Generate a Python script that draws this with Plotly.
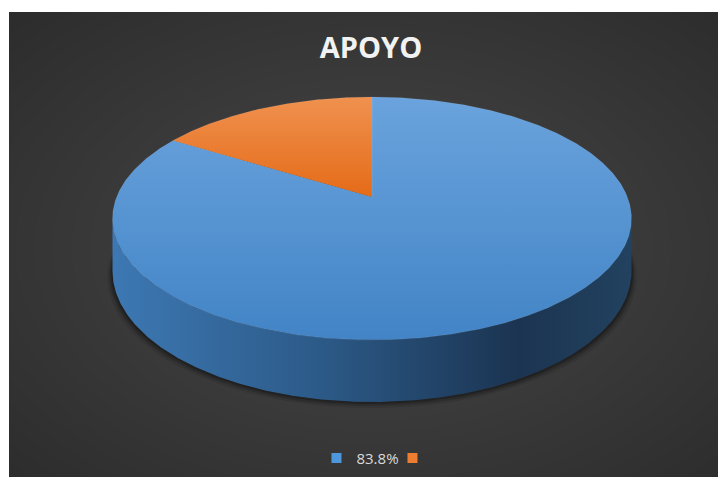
import numpy as np
import plotly.graph_objects as go

# ---- data ----
LABELS = ["83.8%", ""]
VALUES = [83.8, 16.2]
COLORS_TOP = [("#4284c6", "#6aa3dd"), ("#e46b18", "#f0914f")]
LEGEND_COLORS = ["#4f97dd", "#ed7d31"]
TITLE = "APOYO"

# ---- layout constants (pixel space of the screenshot) ----
OFF = 8.0           # page body margin
W, H = 726, 477
X0, Y0 = 9 - OFF, 12 - OFF      # top-left of chart area
CX = 372.0 - OFF        # apex x
APEX_Y = 197.0 - OFF    # projected centre of pie
BACK_Y = 97.0 - OFF     # projected back rim
FRONT_Y = 340.0 - OFF   # projected front rim
HALF_W = 259.5          # half width of top ellipse
THICK = 62.0            # side thickness at front

# projective mapping y(v) = (A v + APEX_Y)/(1 + C v); y(-1)=BACK_Y, y(1)=FRONT_Y
C = (2 * APEX_Y - BACK_Y - FRONT_Y) / (FRONT_Y - BACK_Y)
A = APEX_Y - BACK_Y + BACK_Y * C
phi = np.linspace(0, 2 * np.pi, 4000)
_m = np.max(np.cos(phi) / (1 + C * np.sin(phi)))
S = HALF_W / _m
HBASE = THICK * (1 + C)


def proj(t_deg, drop=0.0):
    t = np.radians(t_deg)
    u = np.sin(t)
    v = -np.cos(t)
    w = 1 + C * v
    x = CX + S * u / w
    y = (A * v + APEX_Y) / w + drop * HBASE / w
    return x, y


fig = go.Figure()

# background: elliptical gradient built from stacked translucent ellipses
shapes = []
bcx, bcy = (X0 + W) / 2, (Y0 + H) / 2
hw, hh = (W - X0) / 2, (H - Y0) / 2
for k in np.linspace(1.45, 0.05, 28):
    shapes.append(dict(type="circle", xref="x", yref="y", layer="below",
                       x0=bcx - k * hw, x1=bcx + k * hw,
                       y0=bcy - k * hh, y1=bcy + k * hh,
                       line=dict(width=0), fillcolor="rgba(255,255,255,0.0085)"))

# shadow under pie
ts = np.linspace(0, 360, 361)
for grow, dy, op in [(5, 6, 0.10), (3, 4, 0.16), (1.5, 2, 0.22)]:
    bx, by = proj(ts, drop=1.0)
    sx = CX + (bx - CX) * (1 + grow / HALF_W)
    sy = by + dy
    fig.add_trace(go.Scatter(x=sx, y=sy, mode="lines", line=dict(width=0),
                             fill="toself", fillcolor=f"rgba(0,0,0,{op})",
                             hoverinfo="skip", showlegend=False))

# side wall (front visible part between silhouette points)
tt = np.linspace(0, 360, 7201)
xx, _ = proj(tt)
t_right = tt[np.argmax(np.where(tt < 180, xx, -1e9))]
t_left = tt[np.argmin(np.where(tt > 180, xx, 1e9))]
arc = np.linspace(t_right, t_left, 400)
x_top, y_top = proj(arc)
x_bot, y_bot = proj(arc[::-1], drop=1.0)
fig.add_trace(go.Scatter(
    x=np.concatenate([x_top, x_bot, x_top[:1]]),
    y=np.concatenate([y_top, y_bot, y_top[:1]]),
    mode="lines", line=dict(width=0), fill="toself",
    fillgradient=dict(type="horizontal",
                      colorscale=[[0, "#3d78b3"], [0.4, "#2c5a88"],
                                  [0.78, "#1b3451"], [1, "#22425f"]]),
    hoverinfo="skip", showlegend=False))

# top face slices (Excel: first slice starts at 12 o'clock, clockwise)
total = sum(VALUES)
start = 0.0
for val, (c_lo, c_hi) in zip(VALUES, COLORS_TOP):
    end = start + 360.0 * val / total
    a = np.linspace(start, end, max(int(end - start) * 2, 4))
    px, py = proj(a)
    fig.add_trace(go.Scatter(
        x=np.concatenate([[CX], px, [CX]]),
        y=np.concatenate([[APEX_Y], py, [APEX_Y]]),
        mode="lines", line=dict(width=0.6, color="rgba(255,255,255,0.12)"),
        fill="toself",
        fillgradient=dict(type="vertical", colorscale=[[0, c_lo], [1, c_hi]]),
        hoverinfo="skip", showlegend=False))
    start = end

# legend entries
for lab, col in zip(LABELS, LEGEND_COLORS):
    fig.add_trace(go.Scatter(x=[None], y=[None], mode="markers", name=lab,
                             marker=dict(symbol="square", size=10, color=col)))

fig.update_layout(
    width=W, height=H,
    margin=dict(l=X0, r=0, t=Y0, b=0),
    paper_bgcolor="white", plot_bgcolor="#2b2b2b",
    xaxis=dict(range=[X0, W], visible=False, fixedrange=True),
    yaxis=dict(range=[H, Y0], visible=False, fixedrange=True),
    shapes=shapes,
    title=dict(text=f"<b>{TITLE}</b>", x=(371 - OFF) / W, xanchor="center",
               y=1 - (48 - OFF) / H, yanchor="middle",
               font=dict(family="Open Sans", size=29, color="#f2f2f2")),
    legend=dict(orientation="h", x=(392 - OFF) / W, xanchor="center",
                y=1 - (458 - OFF) / H, yanchor="middle",
                font=dict(family="Open Sans", size=15, color="#d9d9d9"),
                bgcolor="rgba(0,0,0,0)", itemwidth=30,
                entrywidth=31, entrywidthmode="pixels"),
    showlegend=True,
)

fig.write_html("out.html")
